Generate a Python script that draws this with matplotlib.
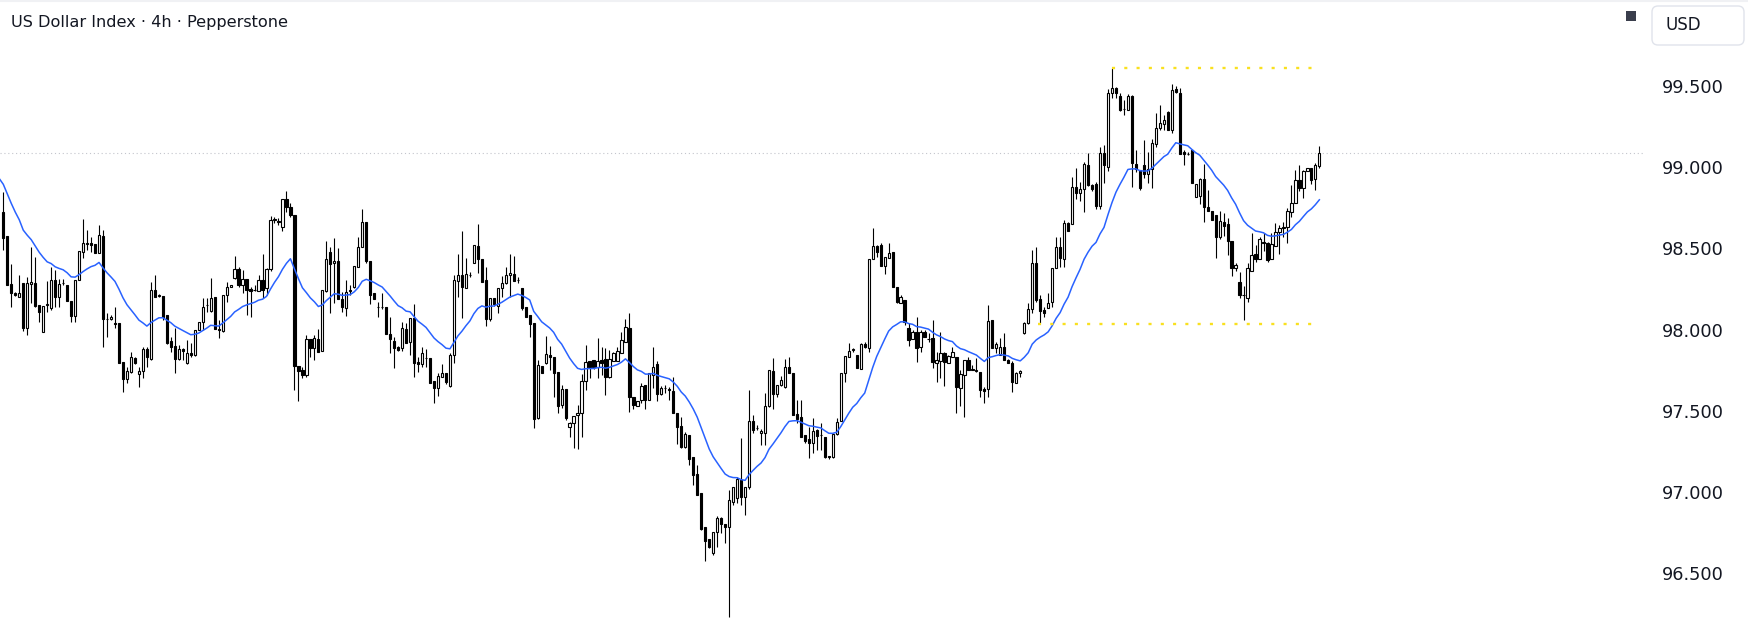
import matplotlib
matplotlib.use("Agg")
import matplotlib.pyplot as plt
from matplotlib.patches import Rectangle, FancyBboxPatch
from matplotlib.lines import Line2D
from matplotlib.transforms import IdentityTransform
import numpy as np

# ---------------- data (US Dollar Index, 4h candles) ----------------
title = "US Dollar Index · 4h · Pepperstone"
currency = "USD"

opens = [
    98.726, 98.577, 98.28, 98.223, 98.199, 98.29, 98.008, 98.279, 98.285, 98.152,
    97.983, 98.15, 98.131, 98.306, 98.199, 98.287, 98.275, 98.176, 98.086, 98.306,
    98.478, 98.527, 98.531, 98.527, 98.474, 98.577, 98.066, 98.063, 98.042, 98.04,
    97.8, 97.694, 97.742, 97.824, 97.728, 97.748, 97.879, 97.82, 98.245, 98.21,
    98.208, 98.09, 97.93, 97.9, 97.818, 97.879, 97.797, 97.859, 97.845, 97.998,
    98.05, 98.15, 98.117, 98.2, 98.007, 97.994, 98.214, 98.261, 98.317, 98.372,
    98.275, 98.31, 98.253, 98.245, 98.241, 98.306, 98.255, 98.372, 98.676, 98.67,
    98.635, 98.803, 98.758, 98.704, 97.779, 97.752, 97.721, 97.941, 97.886, 97.941,
    97.871, 98.241, 98.481, 98.41, 98.423, 98.187, 98.136, 98.24, 98.265, 98.388,
    98.512, 98.665, 98.423, 98.224, 98.14, 98.14, 98.142, 97.974, 97.933, 97.892,
    97.886, 98.003, 97.927, 98.07, 97.803, 97.787, 97.826, 97.824, 97.684, 97.639,
    97.711, 97.732, 97.654, 97.845, 98.302, 98.335, 98.255, 98.335, 98.413, 98.516,
    98.438, 98.306, 98.064, 98.198, 98.148, 98.255, 98.286, 98.337, 98.343, 98.306,
    98.255, 98.142, 98.091, 98.039, 97.454, 97.776, 97.797, 97.844, 97.829, 97.741,
    97.536, 97.632, 97.398, 97.423, 97.472, 97.485, 97.686, 97.809, 97.813, 97.768,
    97.813, 97.817, 97.71, 97.809, 97.809, 97.858, 97.926, 98.008, 97.583, 97.532,
    97.567, 97.659, 97.567, 97.721, 97.79, 97.602, 97.639, 97.63, 97.625, 97.489,
    97.407, 97.276, 97.352, 97.218, 97.112, 96.992, 96.783, 96.709, 96.623, 96.756,
    96.839, 96.804, 96.787, 96.941, 96.962, 97.075, 96.968, 97.033, 97.44, 97.393,
    97.362, 97.366, 97.53, 97.748, 97.604, 97.66, 97.649, 97.768, 97.731, 97.481,
    97.464, 97.352, 97.325, 97.3, 97.382, 97.35, 97.337, 97.222, 97.214, 97.358,
    97.44, 97.735, 97.834, 97.875, 97.844, 97.756, 97.912, 97.885, 98.433, 98.515,
    98.522, 98.392, 98.44, 98.48, 98.265, 98.167, 98.183, 98.009, 97.941, 97.988,
    97.896, 97.988, 97.941, 97.947, 97.793, 97.809, 97.859, 97.797, 97.83, 97.83,
    97.639, 97.721, 97.813, 97.752, 97.748, 97.742, 97.633, 97.633, 98.06, 97.885,
    97.844, 97.891, 97.813, 97.797, 97.674, 97.735, 97.982, 98.039, 98.125, 98.413,
    98.187, 98.121, 98.131, 98.172, 98.378, 98.511, 98.433, 98.655, 98.651, 98.88,
    98.843, 98.864, 99.014, 98.891, 98.897, 98.761, 99.086, 99.004, 99.455, 99.49,
    99.441, 99.36, 99.352, 99.441, 99.018, 98.983, 99.014, 98.956, 98.989, 99.141,
    99.24, 99.264, 99.338, 99.229, 99.482, 99.455, 99.096, 99.079, 99.106, 98.819,
    98.825, 98.927, 98.757, 98.73, 98.706, 98.572, 98.661, 98.648, 98.546, 98.382,
    98.291, 98.213, 98.197, 98.363, 98.464, 98.435, 98.536, 98.531, 98.435, 98.517,
    98.603, 98.634, 98.634, 98.726, 98.782, 98.921, 98.87, 98.979, 98.997, 98.927, 99.008,
]

highs = [
    98.85, 98.577, 98.404, 98.234, 98.336, 98.29, 98.326, 98.507, 98.445, 98.152,
    98.145, 98.3, 98.384, 98.367, 98.31, 98.31, 98.275, 98.176, 98.306, 98.486,
    98.679, 98.614, 98.573, 98.527, 98.644, 98.614, 98.1, 98.09, 98.142, 98.04,
    97.8, 97.772, 97.865, 97.83, 97.773, 97.896, 97.896, 98.296, 98.337, 98.22,
    98.208, 98.09, 97.957, 98.009, 97.906, 97.885, 97.937, 97.916, 97.998, 98.05,
    98.193, 98.193, 98.316, 98.2, 98.06, 98.214, 98.292, 98.275, 98.454, 98.384,
    98.368, 98.31, 98.261, 98.275, 98.337, 98.466, 98.378, 98.7, 98.696, 98.686,
    98.803, 98.854, 98.778, 98.704, 97.779, 97.773, 97.968, 97.941, 97.968, 98.002,
    98.245, 98.546, 98.512, 98.563, 98.501, 98.234, 98.306, 98.275, 98.392, 98.573,
    98.741, 98.665, 98.423, 98.224, 98.173, 98.224, 98.142, 98.081, 97.957, 97.9,
    98.05, 98.044, 98.07, 98.159, 97.834, 97.896, 97.881, 97.824, 97.684, 97.732,
    97.789, 97.732, 97.859, 98.337, 98.464, 98.608, 98.44, 98.358, 98.522, 98.651,
    98.438, 98.389, 98.198, 98.198, 98.257, 98.331, 98.389, 98.466, 98.456, 98.327,
    98.255, 98.142, 98.091, 98.039, 97.813, 97.776, 97.961, 97.899, 97.829, 97.741,
    97.659, 97.632, 97.433, 97.468, 97.536, 97.727, 97.905, 97.809, 97.813, 97.946,
    97.891, 97.885, 97.875, 97.864, 97.895, 97.987, 98.063, 98.1, 97.583, 97.561,
    97.669, 97.659, 97.731, 97.896, 97.81, 97.653, 97.66, 97.65, 97.707, 97.489,
    97.465, 97.372, 97.352, 97.218, 97.167, 96.992, 96.783, 96.709, 96.756, 96.853,
    96.845, 96.804, 97.013, 97.029, 97.095, 97.331, 97.029, 97.629, 97.475, 97.413,
    97.39, 97.608, 97.752, 97.824, 97.66, 97.715, 97.817, 97.834, 97.731, 97.567,
    97.567, 97.352, 97.403, 97.454, 97.39, 97.423, 97.337, 97.222, 97.358, 97.454,
    97.735, 97.838, 97.92, 97.89, 97.844, 97.916, 97.926, 98.433, 98.624, 98.52,
    98.532, 98.45, 98.532, 98.48, 98.265, 98.214, 98.183, 98.039, 98.0, 98.08,
    97.998, 97.998, 97.978, 98.06, 97.865, 97.988, 97.865, 97.844, 97.896, 97.83,
    97.752, 97.813, 97.834, 97.783, 97.824, 97.742, 97.65, 98.152, 98.06, 97.927,
    97.947, 97.978, 97.817, 97.81, 97.741, 97.752, 98.045, 98.162, 98.49, 98.511,
    98.213, 98.137, 98.224, 98.378, 98.573, 98.573, 98.675, 98.665, 98.938, 98.993,
    98.911, 99.034, 99.09, 98.895, 98.911, 99.123, 99.14, 99.48, 99.609, 99.496,
    99.455, 99.414, 99.45, 99.445, 99.106, 98.983, 99.168, 99.096, 99.174, 99.332,
    99.383, 99.322, 99.346, 99.51, 99.5, 99.486, 99.106, 99.096, 99.106, 98.895,
    98.933, 99.018, 98.86, 98.73, 98.706, 98.73, 98.716, 98.69, 98.546, 98.408,
    98.353, 98.271, 98.408, 98.593, 98.521, 98.572, 98.593, 98.541, 98.593, 98.654,
    98.642, 98.665, 98.75, 98.891, 98.983, 99.014, 98.983, 98.997, 98.997, 99.024, 99.133,
]

lows = [
    98.49, 98.275, 98.142, 98.207, 98.199, 97.99, 97.967, 98.162, 98.142, 98.05,
    97.983, 98.11, 98.121, 98.14, 98.141, 98.275, 98.178, 98.049, 98.049, 98.306,
    98.44, 98.49, 98.48, 98.474, 98.474, 97.895, 97.957, 98.06, 98.008, 97.797,
    97.618, 97.67, 97.732, 97.79, 97.645, 97.701, 97.773, 97.814, 98.2, 98.2,
    98.06, 97.912, 97.865, 97.736, 97.814, 97.814, 97.789, 97.834, 97.838, 97.998,
    97.998, 98.111, 98.11, 98.002, 97.947, 97.988, 98.173, 98.261, 98.31, 98.265,
    98.224, 98.091, 98.08, 98.24, 98.24, 98.193, 98.214, 98.36, 98.655, 98.645,
    98.61, 98.727, 98.696, 97.629, 97.563, 97.701, 97.711, 97.834, 97.814, 97.865,
    97.871, 98.235, 98.105, 98.163, 98.187, 98.111, 98.085, 98.214, 98.255, 98.388,
    98.512, 98.409, 98.158, 98.189, 98.076, 98.126, 97.974, 97.859, 97.762, 97.87,
    97.871, 97.916, 97.845, 97.711, 97.742, 97.773, 97.773, 97.674, 97.547, 97.594,
    97.711, 97.664, 97.65, 97.797, 98.204, 98.07, 98.255, 98.323, 98.41, 98.352,
    98.296, 98.023, 98.056, 98.146, 98.101, 98.204, 98.28, 98.204, 98.3, 98.29,
    98.122, 98.078, 97.957, 97.392, 97.448, 97.735, 97.788, 97.751, 97.587, 97.485,
    97.515, 97.443, 97.341, 97.269, 97.263, 97.341, 97.628, 97.70, 97.76, 97.70,
    97.721, 97.597, 97.70, 97.809, 97.809, 97.858, 97.926, 97.495, 97.509, 97.53,
    97.55, 97.509, 97.567, 97.639, 97.56, 97.598, 97.612, 97.567, 97.489, 97.296,
    97.27, 97.27, 97.167, 97.044, 96.982, 96.767, 96.578, 96.654, 96.613, 96.664,
    96.746, 96.685, 96.233, 96.921, 96.93, 96.921, 96.859, 97.02, 97.362, 97.382,
    97.29, 97.29, 97.526, 97.51, 97.587, 97.653, 97.639, 97.731, 97.475, 97.423,
    97.341, 97.3, 97.208, 97.239, 97.259, 97.259, 97.208, 97.202, 97.208, 97.352,
    97.44, 97.68, 97.834, 97.865, 97.762, 97.756, 97.885, 97.865, 98.433, 98.45,
    98.392, 98.343, 98.44, 98.261, 98.163, 98.163, 98.03, 97.9, 97.941, 97.803,
    97.865, 97.953, 97.926, 97.762, 97.68, 97.701, 97.653, 97.797, 97.83, 97.485,
    97.53, 97.464, 97.752, 97.75, 97.74, 97.588, 97.547, 97.588, 97.885, 97.855,
    97.844, 97.813, 97.793, 97.618, 97.672, 97.707, 97.976, 98.035, 98.105, 98.172,
    98.039, 98.08, 98.131, 98.142, 98.378, 98.384, 98.384, 98.61, 98.651, 98.802,
    98.794, 98.727, 98.885, 98.856, 98.741, 98.741, 98.901, 98.98, 99.428, 99.428,
    99.346, 99.322, 99.35, 98.88, 98.968, 98.86, 98.932, 98.901, 98.874, 99.127,
    99.23, 99.23, 99.229, 99.209, 99.455, 99.079, 99.014, 99.075, 98.901, 98.819,
    98.772, 98.665, 98.73, 98.675, 98.443, 98.558, 98.579, 98.46, 98.332, 98.361,
    98.197, 98.06, 98.172, 98.36, 98.418, 98.435, 98.484, 98.418, 98.435, 98.517,
    98.464, 98.572, 98.531, 98.696, 98.782, 98.854, 98.813, 98.975, 98.895, 98.86, 98.997,
]

closes = [
    98.562, 98.275, 98.223, 98.215, 98.228, 98.008, 98.285, 98.293, 98.145, 98.11,
    98.145, 98.157, 98.306, 98.199, 98.281, 98.29, 98.178, 98.086, 98.306, 98.486,
    98.536, 98.531, 98.521, 98.474, 98.581, 98.063, 98.063, 98.08, 98.038, 97.797,
    97.694, 97.745, 97.834, 97.793, 97.748, 97.879, 97.834, 98.245, 98.204, 98.21,
    98.08, 97.916, 97.896, 97.818, 97.879, 97.87, 97.859, 97.845, 97.998, 98.05,
    98.142, 98.15, 98.193, 98.002, 97.998, 98.214, 98.261, 98.273, 98.372, 98.275,
    98.31, 98.245, 98.24, 98.243, 98.306, 98.245, 98.372, 98.676, 98.68, 98.665,
    98.803, 98.758, 98.704, 97.779, 97.748, 97.721, 97.941, 97.89, 97.947, 97.865,
    98.245, 98.433, 98.403, 98.423, 98.187, 98.142, 98.234, 98.245, 98.392, 98.512,
    98.665, 98.423, 98.214, 98.189, 98.138, 98.138, 97.974, 97.943, 97.885, 97.875,
    98.009, 97.92, 98.07, 97.797, 97.787, 97.859, 97.824, 97.674, 97.639, 97.715,
    97.732, 97.678, 97.845, 98.306, 98.335, 98.265, 98.343, 98.337, 98.522, 98.436,
    98.296, 98.064, 98.198, 98.159, 98.257, 98.286, 98.337, 98.352, 98.302, 98.304,
    98.132, 98.081, 98.035, 97.448, 97.782, 97.735, 97.85, 97.829, 97.731, 97.53,
    97.634, 97.454, 97.423, 97.468, 97.485, 97.686, 97.803, 97.768, 97.768, 97.809,
    97.797, 97.71, 97.817, 97.858, 97.87, 97.936, 98.014, 97.583, 97.536, 97.561,
    97.653, 97.567, 97.731, 97.772, 97.604, 97.639, 97.639, 97.629, 97.489, 97.403,
    97.28, 97.358, 97.206, 97.105, 96.982, 96.771, 96.701, 96.66, 96.756, 96.839,
    96.804, 96.787, 96.951, 97.029, 97.079, 96.968, 97.029, 97.44, 97.382, 97.393,
    97.376, 97.53, 97.752, 97.604, 97.66, 97.69, 97.768, 97.735, 97.475, 97.448,
    97.341, 97.317, 97.304, 97.378, 97.345, 97.35, 97.214, 97.214, 97.358, 97.434,
    97.735, 97.838, 97.871, 97.875, 97.762, 97.912, 97.891, 98.433, 98.515, 98.48,
    98.392, 98.446, 98.47, 98.261, 98.173, 98.203, 98.05, 97.937, 97.988, 97.885,
    97.988, 97.953, 97.941, 97.803, 97.813, 97.859, 97.803, 97.838, 97.865, 97.645,
    97.727, 97.813, 97.752, 97.752, 97.748, 97.629, 97.625, 98.056, 97.885, 97.912,
    97.895, 97.813, 97.793, 97.68, 97.731, 97.745, 98.039, 98.125, 98.413, 98.183,
    98.117, 98.1, 98.166, 98.378, 98.507, 98.439, 98.655, 98.61, 98.88, 98.839,
    98.864, 99.02, 98.891, 98.864, 98.761, 99.086, 99.011, 99.455, 99.486, 99.455,
    99.352, 99.358, 99.441, 99.024, 98.989, 98.874, 98.956, 98.989, 99.147, 99.24,
    99.27, 99.291, 99.229, 99.475, 99.461, 99.079, 99.079, 99.082, 98.901, 98.895,
    98.927, 98.757, 98.73, 98.675, 98.572, 98.669, 98.64, 98.546, 98.377, 98.398,
    98.213, 98.215, 98.377, 98.46, 98.435, 98.558, 98.538, 98.429, 98.525, 98.603,
    98.628, 98.624, 98.73, 98.778, 98.921, 98.87, 98.977, 98.993, 98.921, 99.014, 99.086,
]

# moving average (EMA) settings; seed = EMA value one bar before the first candle
ma_period = 20
ma_seed = 98.93

# horizontal levels (price, start candle index, end candle index)
level_high = 99.609
level_high_span = (278.0, 328.4)
level_low = 98.035
level_low_span = (259.5, 328.4)
last_price = 99.085

y_ticks = [96.5, 97.0, 97.5, 98.0, 98.5, 99.0, 99.5]
y_tick_labels = ["96.500", "97.000", "97.500", "98.000", "98.500", "99.000", "99.500"]

# ---------------- figure ----------------
W, H = 1749, 629
fig = plt.figure(figsize=(W / 100, H / 100), dpi=100)
fig.patch.set_facecolor("white")
ax = fig.add_axes([0, 0, 1645 / W, 1])
ax.set_facecolor("white")
for s in ax.spines.values():
    s.set_visible(False)

n = len(closes)
x = np.arange(n)
o = np.array(opens)
h = np.array(highs)
l = np.array(lows)
c = np.array(closes)

# wicks
ax.vlines(x, l, h, color="black", lw=0.8, zorder=2)
# bodies
up = c >= o
bottoms = np.minimum(o, c)
heights = np.maximum(np.abs(c - o), 0.003)
ax.bar(x[up], heights[up], bottom=bottoms[up], width=0.56, color="white",
       edgecolor="black", linewidth=0.8, zorder=3)
ax.bar(x[~up], heights[~up], bottom=bottoms[~up], width=0.56, color="black",
       edgecolor="black", linewidth=0.8, zorder=3)

# EMA
alpha = 2 / (ma_period + 1)
ema = [ma_seed]
e = ma_seed
for v in closes:
    e = e + alpha * (v - e)
    ema.append(e)
ax.plot(np.arange(-1, n), ema, color="#2962ff", lw=1.1, zorder=4,
        solid_joinstyle="round")

# last price line
ax.axhline(last_price, color="#c3c5cc", lw=0.8, linestyle=(0, (1, 2.5)), zorder=1)

# yellow dotted levels
for lvl, (x0, x1) in [(level_high, level_high_span), (level_low, level_low_span)]:
    ax.plot([x0, x1], [lvl, lvl], color="#f9e01f", lw=1.7,
            linestyle=(0, (1.3, 3.9)), solid_capstyle="butt",
            dash_capstyle="butt", zorder=5)

ax.set_xlim(-0.83, -0.83 + 1645 / 3.988)
ax.set_ylim(96.157, 100.030)
ax.set_xticks([])
ax.yaxis.tick_right()
ax.set_yticks(y_ticks)
ax.set_yticklabels(y_tick_labels)
ax.tick_params(axis="y", length=0, pad=12, labelsize=12.8, labelcolor="#131722")

# title
fig.text(11 / W, 1 - 23 / H, title, fontsize=11.6, va="center", ha="left",
         color="#131722")

# top thin border
fig.add_artist(Line2D([0, 1], [1 - 1 / H, 1 - 1 / H], transform=fig.transFigure,
                      color="#f0f1f4", lw=1.5))

# small square marker and currency box
fig.add_artist(Rectangle((1626, H - 21), 10, 10, transform=IdentityTransform(),
                         facecolor="#3a3e4c", edgecolor="none"))
fig.add_artist(FancyBboxPatch((1652, H - 45), 92, 39,
                              boxstyle="round,pad=0,rounding_size=6",
                              transform=IdentityTransform(),
                              facecolor="white", edgecolor="#e0e3eb", lw=1.0))
fig.text(1666 / W, 1 - 25.5 / H, currency, fontsize=12, va="center", ha="left",
         color="#131722")

fig.savefig("out.png", dpi=100, facecolor="white")
